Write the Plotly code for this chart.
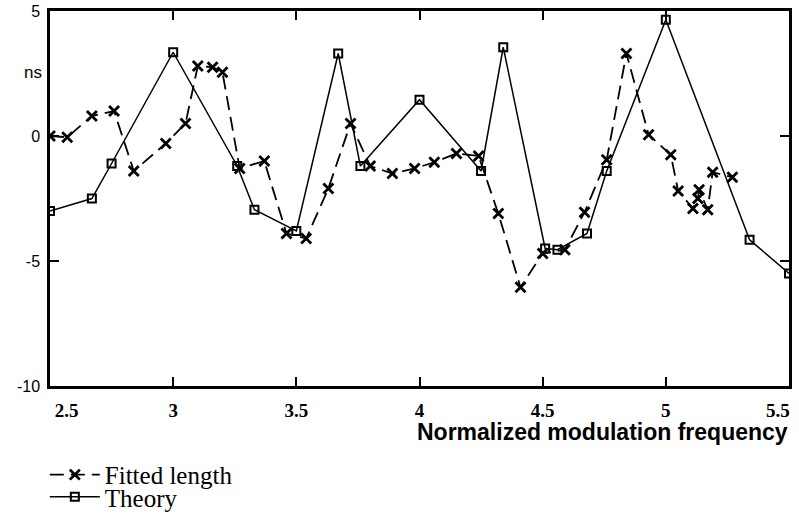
import plotly.graph_objects as go

# ---- data ----
theory_x = [2.5, 2.67, 2.75, 3.0, 3.26, 3.33, 3.5, 3.67, 3.76, 4.0, 4.25, 4.34,
            4.51, 4.56, 4.68, 4.76, 5.0, 5.34, 5.5]
theory_y = [-3.0, -2.5, -1.1, 3.35, -1.2, -2.95, -3.8, 3.3, -1.2, 1.45, -1.4, 3.55,
            -4.5, -4.55, -3.9, -1.4, 4.65, -4.15, -5.5]

fitted_x = [2.5, 2.57, 2.67, 2.76, 2.84, 2.97, 3.05, 3.10, 3.16, 3.20, 3.27, 3.37,
            3.46, 3.54, 3.63, 3.72, 3.80, 3.89, 3.98, 4.06, 4.15, 4.24, 4.32, 4.41,
            4.50, 4.59, 4.67, 4.76, 4.84, 4.93, 5.02, 5.05, 5.11, 5.13, 5.135, 5.17,
            5.19, 5.27]
fitted_y = [0.0, -0.05, 0.8, 1.0, -1.4, -0.3, 0.5, 2.8, 2.75, 2.55, -1.3, -1.0,
            -3.9, -4.1, -2.1, 0.5, -1.2, -1.5, -1.3, -1.05, -0.7, -0.8, -3.1, -6.05,
            -4.7, -4.55, -3.05, -0.95, 3.3, 0.05, -0.75, -2.2, -2.9, -2.5, -2.15, -2.95,
            -1.45, -1.65]

x_ticks = [2.5, 3, 3.5, 4, 4.5, 5, 5.5]
x_tick_text = ["2.5", "3", "3.5", "4", "4.5", "5", "5.5"]
y_ticks = [5, 0, -5, -10]
y_tick_text = ["5", "0", "-5", "-10"]

series_names = ["Fitted length", "Theory"]
x_title = "Normalized modulation frequency"
y_unit = "ns"

# end labels sit inside the frame in the reference: the first one is padded,
# the last one is drawn right-aligned at its tick value
NB = "\u00a0"
x_tick_display = list(x_tick_text)
x_tick_display[0] = NB * 7 + x_tick_display[0]
x_tick_display[-1] = ""

TICKFONT_X = dict(family="Liberation Serif", size=19, color="black", weight="bold")

fig = go.Figure()

fig.add_trace(go.Scatter(
    x=fitted_x, y=fitted_y, mode="lines+markers", name=series_names[0],
    line=dict(color="black", width=1.8, dash="14px,7px"),
    marker=dict(symbol="x-thin", size=10, color="black",
                line=dict(color="black", width=2.8)),
    legend="legend",
))
fig.add_trace(go.Scatter(
    x=theory_x, y=theory_y, mode="lines+markers", name=series_names[1],
    line=dict(color="black", width=1.5),
    marker=dict(symbol="square-open", size=8, color="black",
                line=dict(color="black", width=2)),
    legend="legend2",
))

axis_common = dict(
    showline=True, linecolor="black", linewidth=2.5, mirror="ticks",
    ticks="inside", ticklen=9, tickwidth=2, tickcolor="black",
    showgrid=False, zeroline=False, automargin=False,
    ticklabeloverflow="allow",
)

leg_common = dict(
    xanchor="left", yanchor="middle", bgcolor="rgba(0,0,0,0)",
    font=dict(family="Liberation Serif", size=25, color="black"),
    itemwidth=50, borderwidth=0,
)

fig.update_layout(
    width=799, height=515,
    margin=dict(l=50, r=10, t=11, b=129, autoexpand=False),
    paper_bgcolor="white", plot_bgcolor="white",
    showlegend=True,
    legend=dict(x=-0.007, y=-0.237, **leg_common),
    legend2=dict(x=-0.007, y=-0.296, **leg_common),
    xaxis=dict(range=[2.5, 5.5], tickmode="array", tickvals=x_ticks,
               ticktext=x_tick_display, ticklabelstandoff=5,
               tickfont=TICKFONT_X, **axis_common),
    yaxis=dict(range=[-10, 5], tickmode="array", tickvals=y_ticks,
               ticktext=y_tick_text, ticklabelstandoff=4,
               tickfont=dict(family="Liberation Sans", size=16, color="black"),
               **axis_common),
    annotations=[
        dict(text=x_tick_text[-1], xref="x", yref="paper", x=x_ticks[-1], y=0,
             xanchor="right", yanchor="top", xshift=3, yshift=-12,
             showarrow=False, font=TICKFONT_X),
        dict(text=x_title, xref="paper", yref="paper", x=1.0014, y=-0.122,
             xanchor="right", yanchor="middle", showarrow=False,
             font=dict(family="Liberation Sans", size=23, color="black",
                       weight="bold")),
        dict(text=y_unit, xref="paper", yref="paper", x=-0.008, y=0.835,
             xanchor="right", yanchor="middle", showarrow=False,
             font=dict(family="Liberation Sans", size=17, color="black")),
    ],
)

fig.write_html("out.html")
